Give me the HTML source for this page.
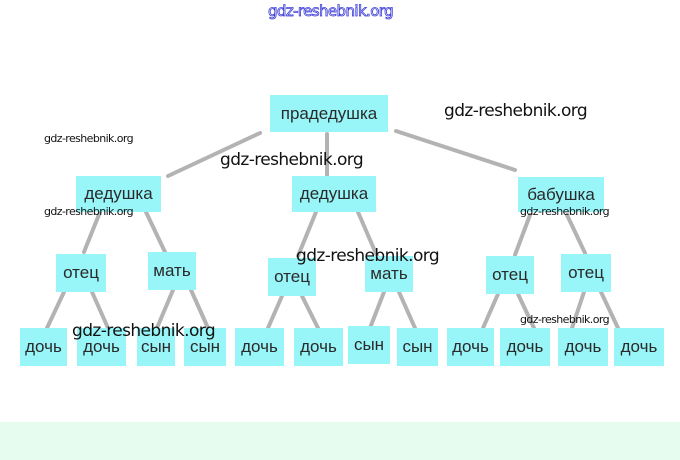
<!DOCTYPE html>
<html><head><meta charset="utf-8"><style>
body{margin:0;width:680px;height:460px;background:#fff;position:relative;overflow:hidden;font-family:"Liberation Sans","DejaVu Sans",sans-serif}
.b{position:absolute;background:#98f5f8;color:#2a2a2a;font-size:17px;display:flex;align-items:center;justify-content:center}
.w{position:absolute;color:#111;font-family:"DejaVu Sans","Liberation Sans",sans-serif;white-space:nowrap;letter-spacing:-0.6px}
svg{position:absolute;left:0;top:0}
</style></head><body>
<div style="position:absolute;left:0;top:422px;width:680px;height:38px;background:#e6fcef"></div>
<svg width="680" height="460"><g stroke="#b3b3b3" stroke-width="4" stroke-linecap="round">
<line x1="260" y1="133" x2="168" y2="176"/><line x1="327" y1="134" x2="327" y2="176"/><line x1="396" y1="131" x2="515" y2="170"/>
<line x1="100" y1="212" x2="84" y2="252"/><line x1="146" y1="212" x2="165" y2="252"/>
<line x1="316" y1="212" x2="298" y2="256"/><line x1="358" y1="212" x2="377" y2="256"/>
<line x1="530" y1="215" x2="515" y2="255"/><line x1="567" y1="215" x2="585" y2="253"/>
<line x1="64" y1="292" x2="47" y2="328"/><line x1="92" y1="292" x2="108" y2="328"/>
<line x1="173" y1="290" x2="157" y2="328"/><line x1="191" y1="290" x2="208" y2="328"/>
<line x1="282" y1="296" x2="268" y2="328"/><line x1="302" y1="296" x2="318" y2="328"/>
<line x1="384" y1="292" x2="370" y2="328"/><line x1="399" y1="292" x2="415" y2="328"/>
<line x1="498" y1="294" x2="483" y2="328"/><line x1="518" y1="294" x2="534" y2="328"/>
<line x1="584" y1="292" x2="572" y2="328"/><line x1="601" y1="292" x2="618" y2="328"/>
</g></svg>
<div class="b" style="left:270px;top:95px;width:118px;height:37px">прадедушка</div>
<div class="b" style="left:76px;top:176px;width:85px;height:36px">дедушка</div>
<div class="b" style="left:292px;top:176px;width:84px;height:36px">дедушка</div>
<div class="b" style="left:518px;top:177px;width:86px;height:35px">бабушка</div>
<div class="b" style="left:56px;top:254px;width:50px;height:38px">отец</div>
<div class="b" style="left:148px;top:252px;width:48px;height:38px">мать</div>
<div class="b" style="left:268px;top:258px;width:48px;height:38px">отец</div>
<div class="b" style="left:365px;top:256px;width:48px;height:36px">мать</div>
<div class="b" style="left:486px;top:256px;width:48px;height:38px">отец</div>
<div class="b" style="left:561px;top:254px;width:50px;height:38px">отец</div>
<div class="b" style="left:20px;top:328px;width:47px;height:38px">дочь</div>
<div class="b" style="left:77px;top:328px;width:49px;height:38px">дочь</div>
<div class="b" style="left:137px;top:328px;width:38px;height:38px">сын</div>
<div class="b" style="left:184px;top:328px;width:42px;height:38px">сын</div>
<div class="b" style="left:235px;top:328px;width:49px;height:38px">дочь</div>
<div class="b" style="left:294px;top:328px;width:49px;height:38px">дочь</div>
<div class="b" style="left:348px;top:326px;width:42px;height:38px">сын</div>
<div class="b" style="left:397px;top:328px;width:41px;height:38px">сын</div>
<div class="b" style="left:447px;top:328px;width:47px;height:38px">дочь</div>
<div class="b" style="left:500px;top:328px;width:50px;height:38px">дочь</div>
<div class="b" style="left:558px;top:328px;width:50px;height:38px">дочь</div>
<div class="b" style="left:614px;top:328px;width:50px;height:38px">дочь</div>
<div class="w" style="left:268px;top:2px;font-size:15px;color:#fff;-webkit-text-stroke:0.8px #3a3ad8">gdz-reshebnik.org</div>
<div class="w" style="left:444px;top:101px;font-size:17px">gdz-reshebnik.org</div>
<div class="w" style="left:44px;top:132px;font-size:11px">gdz-reshebnik.org</div>
<div class="w" style="left:220px;top:150px;font-size:17px">gdz-reshebnik.org</div>
<div class="w" style="left:44px;top:205px;font-size:11px">gdz-reshebnik.org</div>
<div class="w" style="left:520px;top:205px;font-size:11px">gdz-reshebnik.org</div>
<div class="w" style="left:296px;top:246px;font-size:17px">gdz-reshebnik.org</div>
<div class="w" style="left:520px;top:313px;font-size:11px">gdz-reshebnik.org</div>
<div class="w" style="left:72px;top:321px;font-size:17px">gdz-reshebnik.org</div>
</body></html>
